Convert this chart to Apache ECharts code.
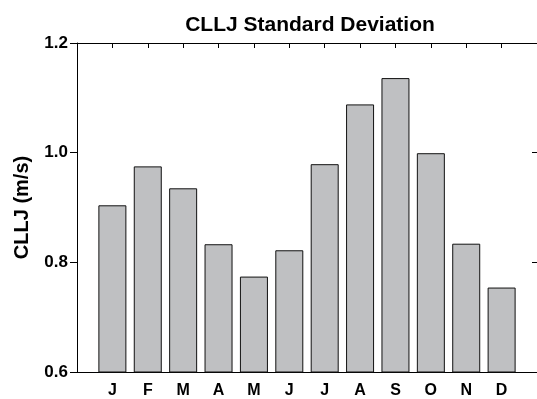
<!DOCTYPE html>
<html><head><meta charset="utf-8">
<script src="https://cdn.jsdelivr.net/npm/echarts@6/dist/echarts.min.js"></script>
<style>html,body{margin:0;padding:0;background:#fff}#c{width:537px;height:399px}</style>
</head><body><div id="c"></div>
<script>
const months = ['J','F','M','A','M','J','J','A','S','O','N','D'];
const stdDev = [0.904, 0.975, 0.935, 0.833, 0.774, 0.822, 0.979, 1.088, 1.136, 0.999, 0.834, 0.754];
const yTicks = [0.6, 0.8, 1.0, 1.2];
const titleText = 'CLLJ Standard Deviation';
const yName = 'CLLJ (m/s)';

const font = 'Liberation Sans, Arial, Helvetica, sans-serif';
const chart = echarts.init(document.getElementById('c'), null, {renderer: 'canvas'});
chart.setOption({
  animation: false,
  backgroundColor: '#fff',
  title: {text: titleText, left: 305, top: 10, textAlign: 'center',
    textStyle: {fontFamily: font, fontWeight: 'bold', fontSize: 21, color: '#000'}},
  grid: {left: 77, right: -1, top: 43, bottom: 23.5},
  xAxis: [{
    type: 'value', min: 0, max: months.length + 1, interval: 1, position: 'bottom',
    splitLine: {show: false},
    axisLine: {show: true, onZero: false, lineStyle: {color: '#000', width: 1}},
    axisTick: {show: false},
    axisLabel: {margin: 11, fontFamily: font, fontWeight: 'bold', fontSize: 16, color: '#000',
      showMinLabel: false, showMaxLabel: false,
      formatter: v => months[v - 1] || ''}
  }, {
    type: 'value', min: 0, max: months.length + 1, interval: 1, position: 'top',
    splitLine: {show: false},
    axisLine: {show: true, onZero: false, lineStyle: {color: '#000', width: 1}},
    axisTick: {show: true, inside: true, length: 5, lineStyle: {color: '#000'}},
    axisLabel: {show: false}
  }],
  yAxis: [{
    type: 'value', min: yTicks[0], max: yTicks[yTicks.length - 1], interval: 0.2, position: 'left',
    name: yName, nameLocation: 'middle', nameGap: 45, nameRotate: 90,
    nameTextStyle: {fontFamily: font, fontWeight: 'bold', fontSize: 20, color: '#000'},
    splitLine: {show: false},
    axisLine: {show: true, onZero: false, lineStyle: {color: '#000', width: 1}},
    axisTick: {show: true, inside: false, length: 7, lineStyle: {color: '#000'}},
    axisLabel: {margin: 9, fontFamily: font, fontWeight: 'bold', fontSize: 17, color: '#000',
      formatter: v => v.toFixed(1)}
  }, {
    type: 'value', min: yTicks[0], max: yTicks[yTicks.length - 1], interval: 0.2, position: 'right',
    splitLine: {show: false},
    axisLine: {show: true, onZero: false, lineStyle: {color: '#000', width: 1}},
    axisTick: {show: true, inside: true, length: 5, lineStyle: {color: '#000'}},
    axisLabel: {show: false}
  }],
  series: [{
    type: 'bar', xAxisIndex: 0, yAxisIndex: 0,
    data: stdDev.map((v, i) => [i + 1, v]),
    barWidth: 28,
    clip: true,
    itemStyle: {color: '#bfc0c2', borderColor: '#111', borderWidth: 1}
  }]
});
</script></body></html>
